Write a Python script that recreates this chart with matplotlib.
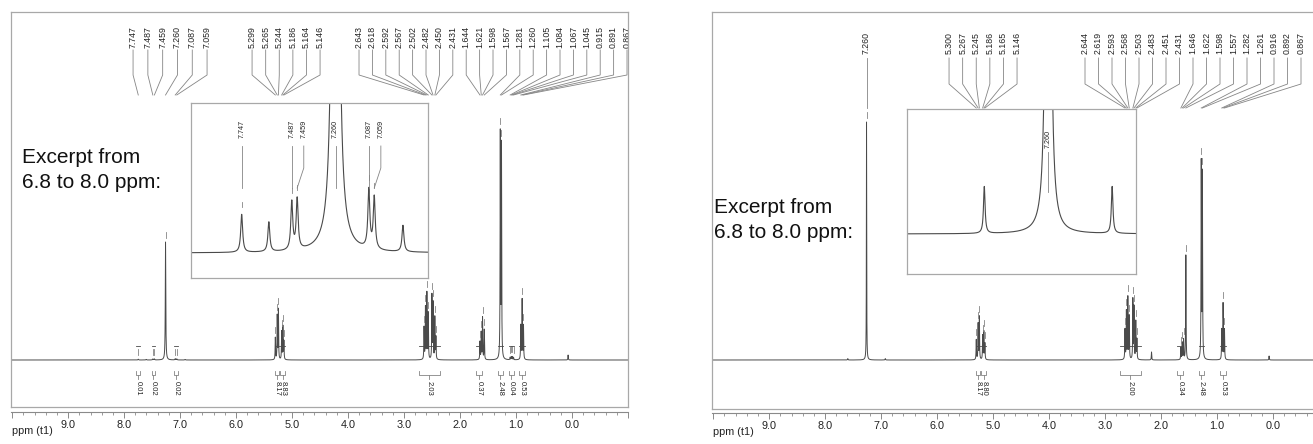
import numpy as np
import matplotlib
matplotlib.use("Agg")
import matplotlib.pyplot as plt
from matplotlib.transforms import blended_transform_factory
from matplotlib.ticker import FixedLocator, FixedFormatter, MultipleLocator

plt.rcParams['font.family'] = ['Liberation Sans', 'DejaVu Sans']

W, H = 1313, 444

### left spectrum: peaks (ppm, height above baseline, half width) ###
left_peak_ppm = [7.747, 7.606, 7.487, 7.459, 7.260, 7.087, 7.059, 6.910,
                 5.299, 5.265, 5.244, 5.186, 5.164, 5.146,
                 2.643, 2.618, 2.592, 2.567, 2.502, 2.482, 2.450, 2.431,
                 1.644, 1.621, 1.598, 1.567, 1.281, 1.260,
                 1.105, 1.084, 1.067, 1.045, 0.915, 0.891, 0.867, 0.070]
left_peak_height = [0.79, 0.62, 1.0, 1.05, 118, 1.22, 1.08, 0.55,
                    22, 44, 50, 28, 33, 18,
                    32, 52, 66, 46, 64, 56, 42, 22,
                    18, 27, 42, 30, 225, 212,
                    2.5, 3, 3, 2.5, 34, 60, 34, 5]
left_peak_width = [0.006, 0.006, 0.006, 0.006, 0.005, 0.006, 0.006, 0.006,
                   0.004, 0.004, 0.004, 0.004, 0.004, 0.004,
                   0.004, 0.004, 0.004, 0.004, 0.004, 0.004, 0.004, 0.004,
                   0.004, 0.004, 0.004, 0.004, 0.004, 0.004,
                   0.004, 0.004, 0.004, 0.004, 0.004, 0.004, 0.004, 0.004]

left_labels = [7.747, 7.487, 7.459, 7.260, 7.087, 7.059,
               5.299, 5.265, 5.244, 5.186, 5.164, 5.146,
               2.643, 2.618, 2.592, 2.567, 2.502, 2.482, 2.450, 2.431,
               1.644, 1.621, 1.598, 1.567, 1.281, 1.260,
               1.105, 1.084, 1.067, 1.045, 0.915, 0.891, 0.867]
left_inset_labels = [7.747, 7.487, 7.459, 7.260, 7.087, 7.059]

left_int_from = [7.78, 7.51, 7.10, 5.31, 5.21, 2.74, 1.72, 1.33, 1.13, 0.95]
left_int_to = [7.71, 7.44, 7.03, 5.23, 5.12, 2.36, 1.60, 1.23, 1.04, 0.84]
left_int_value = ['0.01', '0.02', '0.02', '8.17', '8.83', '2.03', '0.37', '2.48', '0.04', '0.53']

### right spectrum ###
right_peak_ppm = [7.595, 7.260, 6.925,
                  5.300, 5.267, 5.245, 5.186, 5.165, 5.146,
                  2.644, 2.619, 2.593, 2.568, 2.503, 2.483, 2.451, 2.431, 2.170,
                  1.646, 1.622, 1.598, 1.557, 1.282, 1.261,
                  0.916, 0.892, 0.867, 0.070]
right_peak_height = [1.34, 238, 1.34,
                     20, 36, 43, 24, 28, 16,
                     30, 48, 62, 43, 60, 52, 38, 20, 8,
                     12, 17, 20, 105, 195, 185,
                     30, 56, 30, 4]
right_peak_width = [0.005, 0.003, 0.005,
                    0.004, 0.004, 0.004, 0.004, 0.004, 0.004,
                    0.004, 0.004, 0.004, 0.004, 0.004, 0.004, 0.004, 0.004, 0.004,
                    0.004, 0.004, 0.004, 0.004, 0.004, 0.004,
                    0.004, 0.004, 0.004, 0.004]

right_labels = [7.260,
                5.300, 5.267, 5.245, 5.186, 5.165, 5.146,
                2.644, 2.619, 2.593, 2.568, 2.503, 2.483, 2.451, 2.431,
                1.646, 1.622, 1.598, 1.557, 1.282, 1.261, 0.916, 0.892, 0.867]
right_inset_labels = [7.260]

right_int_from = [5.31, 5.21, 2.74, 1.71, 1.33, 0.95]
right_int_to = [5.23, 5.12, 2.36, 1.61, 1.23, 0.84]
right_int_value = ['8.17', '8.80', '2.00', '0.34', '2.48', '0.53']

ruler_ticks = [10, 9, 8, 7, 6, 5, 4, 3, 2, 1, 0, -1]
ruler_labels = ['', '9.0', '8.0', '7.0', '6.0', '5.0', '4.0', '3.0', '2.0', '1.0', '0.0', '']
excerpt_text = 'Excerpt from\n6.8 to 8.0 ppm:'

### styles ###
FRAME = '#a8a8a8'
LINE = '#4a4a4a'
LEAD = '#858585'
TEXT = '#222222'
XLIM = (10.02, -1.0)
FRAME_W = 617
PPX = FRAME_W / (XLIM[0] - XLIM[1])   # pixels per ppm


def fy(ypx):
    return 1 - ypx / H


def spectrum(x, ppm, height, width):
    x = np.asarray(x, dtype=float)[:, None]
    p = np.asarray(ppm)[None, :]
    h = np.asarray(height)[None, :]
    g = np.asarray(width)[None, :]
    return (h * g**2 / ((x - p)**2 + g**2)).sum(axis=1)


def split_groups(labels):
    groups = [[labels[0]]]
    for v in labels[1:]:
        if groups[-1][-1] - v > 1.0:
            groups.append([v])
        else:
            groups[-1].append(v)
    return groups


def draw_panel(fig, x0, top, bottom, ruler_y, base, peaks, labels, fans, leader_y,
               ints, inset, text_xy):
    ppm, hgt, wid = peaks
    ax = fig.add_axes([x0 / W, fy(bottom), FRAME_W / W, (bottom - top) / H])
    ax.set_xlim(XLIM)
    ax.set_ylim(-(bottom - base), base - top)
    ax.set_xticks([])
    ax.set_yticks([])
    for s in ax.spines.values():
        s.set_color(FRAME)
        s.set_linewidth(0.9)
    x = np.linspace(XLIM[0], XLIM[1], 16000)
    ax.plot(x, spectrum(x, ppm, hgt, wid), color=LINE, lw=0.7)

    tr = blended_transform_factory(ax.transData, fig.transFigure)

    # peak labels with leader lines
    for grp, (centre, spacing) in zip(split_groups(labels), fans):
        n = len(grp)
        for i, v in enumerate(grp):
            lx = centre - (i - (n - 1) / 2) * spacing / PPX
            ax.text(lx, fy(leader_y[0]), f'{v:.3f}', rotation=90, ha='center', va='bottom',
                    fontsize=6.3, color=TEXT, transform=tr, clip_on=True)
            ax.plot([lx, lx, v], [fy(leader_y[1]), fy(leader_y[2]), fy(leader_y[3])],
                    transform=tr, color=LEAD, lw=0.6)
            pk = spectrum([v], ppm, hgt, wid)[0]
            ax.plot([v, v], [pk + 4, pk + 10], color=LEAD, lw=0.6)

    # integrals
    for a, b, val in zip(*ints):
        ax.plot([a, b], [14, 14], color=LINE, lw=0.6)
        ax.plot([a, a, b, b], [fy(371), fy(375), fy(375), fy(371)], transform=tr,
                color=LEAD, lw=0.6)
        c = (a + b) / 2
        ax.plot([c, c], [fy(375), fy(379)], transform=tr, color=LEAD, lw=0.6)
        ax.text(c, fy(381), val, rotation=-90, ha='center', va='top', fontsize=5.5,
                color=TEXT, transform=tr)

    # ppm ruler under the frame
    axr = fig.add_axes([x0 / W, fy(ruler_y), FRAME_W / W, 1e-4])
    axr.set_xlim(XLIM)
    axr.set_yticks([])
    axr.patch.set_visible(False)
    for s in ['top', 'left', 'right']:
        axr.spines[s].set_visible(False)
    axr.spines['bottom'].set_color('#8a8a8a')
    axr.spines['bottom'].set_linewidth(0.8)
    axr.xaxis.set_major_locator(FixedLocator(ruler_ticks))
    axr.xaxis.set_major_formatter(FixedFormatter(ruler_labels))
    axr.xaxis.set_minor_locator(MultipleLocator(0.2))
    axr.tick_params(which='major', length=4.3, width=0.7, color='#8a8a8a',
                    labelsize=7.8, labelcolor=TEXT, pad=1.5)
    axr.tick_params(which='minor', length=2.2, width=0.6, color='#8a8a8a')
    fig.text((x0 + 1) / W, fy(ruler_y + 19), 'ppm (t1)', fontsize=7.8, color=TEXT,
             ha='left', va='center')

    # excerpt inset
    (ix0, iy0, ix1, iy1), ixlim, ibase, iscale, ilabels, iy = inset
    axi = fig.add_axes([ix0 / W, fy(iy1), (ix1 - ix0) / W, (iy1 - iy0) / H])
    axi.set_xlim(ixlim)
    axi.set_ylim(-(iy1 - ibase) / iscale, (ibase - iy0) / iscale)
    axi.set_xticks([])
    axi.set_yticks([])
    for s in axi.spines.values():
        s.set_color(FRAME)
        s.set_linewidth(0.9)
    xi = np.linspace(ixlim[0], ixlim[1], 5000)
    axi.plot(xi, spectrum(xi, ppm, hgt, wid), color=LINE, lw=0.8)
    ippx = (ix1 - ix0) / (ixlim[0] - ixlim[1])
    tri = blended_transform_factory(axi.transData, fig.transFigure)
    last = -1e9
    for v in ilabels:
        px = ix0 + (ixlim[0] - v) * ippx
        px = max(px, last + 12)
        last = px
        lx = ixlim[0] - (px - ix0) / ippx
        axi.text(lx, fy(iy[0]), f'{v:.3f}', rotation=90, ha='center', va='bottom',
                 fontsize=5.2, color=TEXT, transform=tri)
        axi.plot([lx, lx, v], [fy(iy[1]), fy(iy[2]), fy(iy[3])], transform=tri,
                 color=LEAD, lw=0.6)
        pk = spectrum([v], ppm, hgt, wid)[0]
        axi.plot([v, v], [pk + 7 / iscale, pk + 12 / iscale], color=LEAD, lw=0.6)

    fig.text(text_xy[0] / W, fy(text_xy[1]), excerpt_text, fontsize=15, color='#111111',
             ha='left', va='center', linespacing=1.4)


fig = plt.figure(figsize=(W / 100, H / 100), dpi=100)

draw_panel(fig, 11, 12, 407, 412, 360,
           (left_peak_ppm, left_peak_height, left_peak_width),
           left_labels,
           [(7.179, 14.8), (5.107, 13.6), (1.411, 13.4)],
           (48, 50, 75, 95),
           (left_int_from, left_int_to, left_int_value),
           ((191, 103, 428, 278), (8.01, 6.78), 253, 48.0, left_inset_labels,
            (138, 146, 168, 188)),
           (22, 170))

draw_panel(fig, 712, 12, 409, 413, 360,
           (right_peak_ppm, right_peak_height, right_peak_width),
           right_labels,
           [(7.260, 13.6), (5.179, 13.6), (1.429, 13.5)],
           (54, 58, 84, 108),
           (right_int_from, right_int_to, right_int_value),
           ((907, 109, 1136, 274), (8.0, 6.8), 234, 35.0, right_inset_labels,
            (148, 152, 170, 192)),
           (714, 220))

fig.savefig('out.png', dpi=100)
